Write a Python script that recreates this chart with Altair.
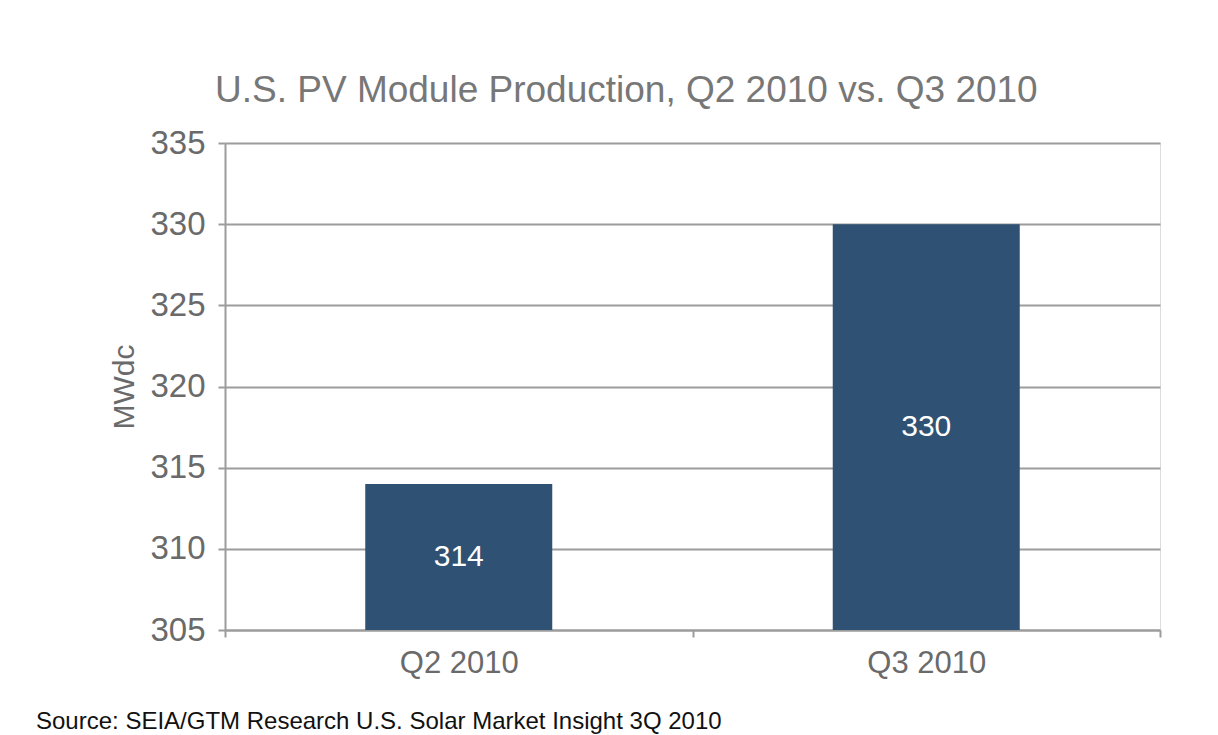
import altair as alt
import pandas as pd

quarters = ["Q2 2010", "Q3 2010"]
values = [314, 330]
y_ticks = [305, 310, 315, 320, 325, 330, 335]
y_base = 305
title_text = "U.S. PV Module Production, Q2 2010 vs. Q3 2010"
source_text = "Source: SEIA/GTM Research U.S. Solar Market Insight 3Q 2010"

FONT = "Liberation Sans"
GRAY = "#6a6a6a"
LINE = "#9c9c9c"

df = pd.DataFrame({"quarter": quarters, "value": values})

x_enc = alt.X(
    "quarter:N", sort=quarters, title=None,
    scale=alt.Scale(paddingInner=0, paddingOuter=0),
    axis=alt.Axis(labelAngle=0, labelFontSize=31, labelColor=GRAY, labelFont=FONT,
                  labelPadding=11, tickBand="extent", tickSize=7, tickColor=LINE,
                  tickWidth=2, domainColor=LINE, domainWidth=2, grid=False),
)
y_enc = alt.Y(
    "value:Q",
    scale=alt.Scale(domain=[y_ticks[0], y_ticks[-1]], nice=False, zero=False),
    axis=alt.Axis(values=y_ticks, title="MWdc", titleFontSize=30, titleColor=GRAY,
                  titleFont=FONT, titleFontWeight="normal", titlePadding=10,
                  labelFontSize=33, labelColor=GRAY, labelFont=FONT, labelPadding=13,
                  tickSize=7, tickColor=LINE, tickWidth=2, domainColor=LINE,
                  domainWidth=2, gridColor=LINE, gridWidth=2),
)

base = alt.Chart(df)
bars = base.mark_bar(color="#2f5173", clip=True,
                     width=alt.RelativeBandSize(0.4)).encode(
    x=x_enc, y=y_enc, y2=alt.datum(y_base)
)
labels = base.transform_calculate(
    mid=f"(datum.value + {y_base}) / 2"
).mark_text(color="white", fontSize=30, font=FONT, baseline="middle").encode(
    x=alt.X("quarter:N", sort=quarters),
    y=alt.Y("mid:Q"),
    text=alt.Text("value:Q"),
)

src = alt.Chart(pd.DataFrame({"t": [source_text]})).mark_text(
    align="left", baseline="alphabetic", fontSize=24, font=FONT, color="#111111"
).encode(x=alt.value(-189), y=alt.value(586), text="t:N")

chart = alt.layer(bars, labels, src).properties(
    width=935, height=487,
    title=alt.TitleParams(title_text, anchor="start", frame="group", dx=-10,
                          fontSize=37, font=FONT, color="#777777",
                          fontWeight="normal", offset=17),
    autosize=alt.AutoSizeParams(type="none"),
    padding={"left": 217, "top": 135, "right": 50, "bottom": 105},
).configure_view(stroke=None).configure(background="white")

chart.save("out.html", embed_options={"renderer": "svg", "actions": False})
